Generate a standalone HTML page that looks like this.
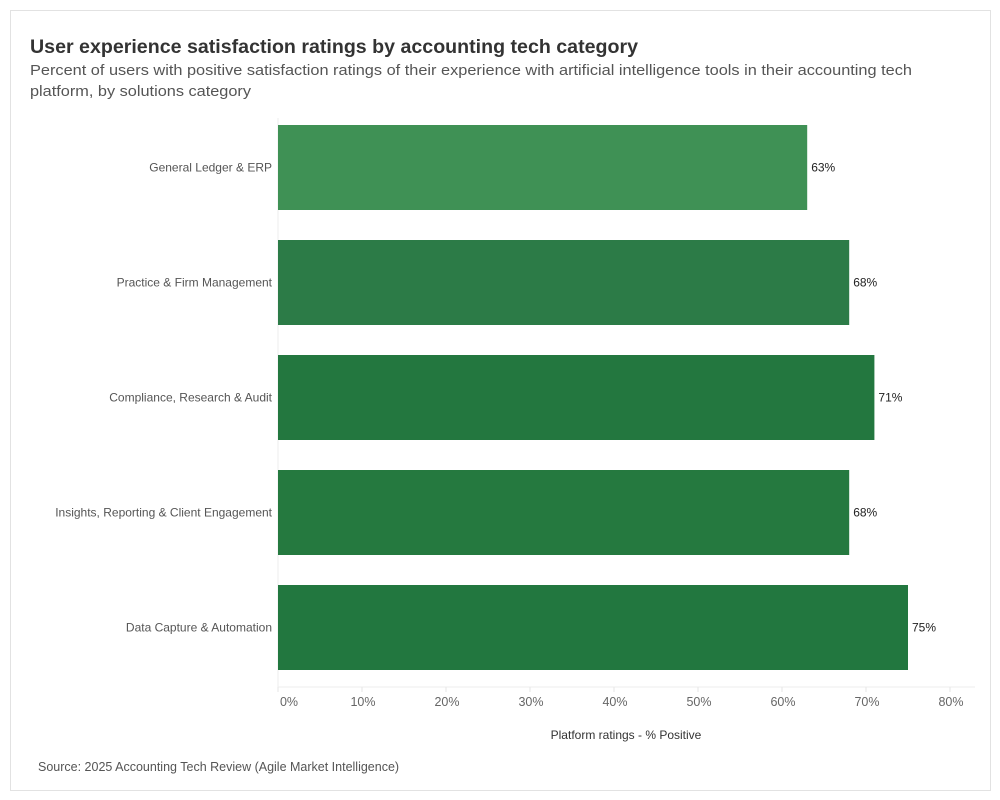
<!DOCTYPE html>
<html><head><meta charset="utf-8"><style>
body{margin:0;background:#fff;font-family:"Liberation Sans",sans-serif;}
#wrap{position:relative;width:1000px;height:800px;}
#frame{position:absolute;left:10px;top:10px;width:979px;height:779px;border:1px solid #e2e2e2;}
</style></head><body>
<div id="wrap">
<div id="frame"></div>
<svg id="chart" width="1000" height="800" style="position:absolute;left:0;top:0">
<text x="30" y="53" font-size="19.5" font-weight="bold" fill="#333" textLength="608" lengthAdjust="spacingAndGlyphs">User experience satisfaction ratings by accounting tech category</text>
<text x="30" y="75" font-size="15" fill="#555" textLength="882" lengthAdjust="spacingAndGlyphs">Percent of users with positive satisfaction ratings of their experience with artificial intelligence tools in their accounting tech</text>
<text x="30" y="96" font-size="15" fill="#555" textLength="221" lengthAdjust="spacingAndGlyphs">platform, by solutions category</text>
<text x="626" y="739" font-size="12" fill="#333" text-anchor="middle">Platform ratings - % Positive</text>
<text x="38" y="771" font-size="12.5" fill="#555">Source: 2025 Accounting Tech Review (Agile Market Intelligence)</text>
<g id="plot"></g>
</svg>
</div>
<script>
const categories=["General Ledger & ERP","Practice & Firm Management","Compliance, Research & Audit","Insights, Reporting & Client Engagement","Data Capture & Automation"];
const values=[63,68,71,68,75];
const valueLabels=["63%","68%","71%","68%","75%"];
const tickValues=[0,10,20,30,40,50,60,70,80];
const tickLabels=["0%","10%","20%","30%","40%","50%","60%","70%","80%"];
const colors=["#3f9155","#2c7b47","#23773f","#25793f","#22773f"];
const NS="http://www.w3.org/2000/svg";
const g=document.getElementById('plot');
const x=v=>278+v*8.4;
const yTop=i=>125+i*115;
const bh=85;
function mk(t,a){const e=document.createElementNS(NS,t);for(const k in a)e.setAttribute(k,a[k]);g.appendChild(e);return e;}
let l=mk('line',{x1:278,y1:118,x2:278,y2:687,stroke:'#eee'});


l=mk('line',{x1:278,y1:687,x2:975,y2:687,stroke:'#eee'});


tickValues.forEach((v,i)=>{
 const t=mk('line',{x1:x(v),y1:687,x2:x(v),y2:692,stroke:'#e6e6e6'});
 
 
 const cx=Math.max(x(v)+1,289);
 const tx=mk('text',{x:cx,y:706,'font-size':12.5,fill:'#666','text-anchor':'middle'});
 tx.textContent=tickLabels[i];
 
 
});
categories.forEach((c,i)=>{
 const r=mk('rect',{x:x(0),y:yTop(i),width:x(values[i])-x(0),height:bh,fill:colors[i]});
 
 
 const lb=mk('text',{x:272,y:yTop(i)+bh/2+4,'font-size':12,fill:'#555','text-anchor':'end'});
 lb.textContent=c;
 
 
 const vl=mk('text',{x:x(values[i])+4,y:yTop(i)+bh/2+4,'font-size':12,fill:'#222'});
 vl.textContent=valueLabels[i];
 
 
});
</script>
</body></html>
